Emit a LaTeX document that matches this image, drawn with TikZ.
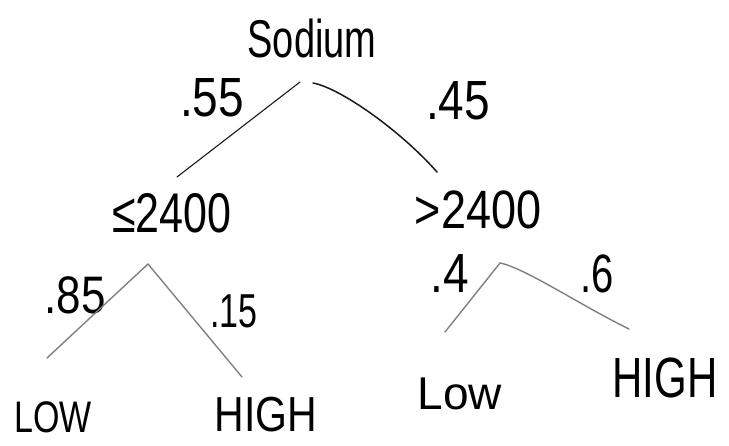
\documentclass[tikz,border=0pt]{standalone}
\usepackage{fontspec}
\usepackage{graphicx}
\setmainfont{Liberation Sans}
\newcommand\hw[3]{\scalebox{1}[#2]{\fontsize{#1}{#1}\selectfont #3}}
\begin{document}
\begin{tikzpicture}[x=1pt,y=-1pt,
  hand/.style={inner sep=0pt,anchor=center,text=black},
  topline/.style={line width=1.1pt,draw=black!90,line cap=round},
  lowline/.style={line width=1.4pt,draw=black!50,line cap=round}]
\useasboundingbox (0,0) rectangle (729,445);
% texts
\node[hand] (sodium) at (312,38) {\hw{38}{1.4}{Sodium}};
\node[hand] (p55) at (212,98) {\hw{46}{1.2}{.55}};
\node[hand] (p45) at (458,101) {\hw{46}{1.2}{.45}};
\node[hand] (le) at (172,213) {\hw{43}{1.3}{≤2400}};
\node[hand] (gt) at (478,210) {\hw{45}{1.2}{>2400}};
\node[hand] (p85) at (75,295) {\hw{44}{1.2}{.85}};
\node[hand] (p15) at (234,311) {\hw{34}{1.4}{.15}};
\node[hand] (p4) at (450,274) {\hw{46}{1.2}{.4}};
\node[hand] (p6) at (597,274) {\hw{40}{1.35}{.6}};
\node[hand] (low1) at (53,417) {\hw{34}{1.3}{LOW}};
\node[hand] (high1) at (266,415) {\hw{41}{1.2}{HIGH}};
\node[hand] (low2) at (460,394) {\hw{46}{1.0}{Low}};
\node[hand] (high2) at (665,378) {\hw{42}{1.35}{HIGH}};
% connector points
\coordinate (rootL) at (300,82);
\coordinate (rootR) at (313,83);
\coordinate (aL) at (177,177);
\coordinate (aR) at (437,172);
\coordinate (lapex) at (148,264);
\coordinate (lL) at (47,358);
\coordinate (lR) at (242,377);
\coordinate (rapex) at (500,263);
\coordinate (rL) at (445,332);
\coordinate (rR) at (629,329);
% connectors
\draw[topline] (rootL) -- (aL);
\draw[topline,line width=1.5pt] (rootR) .. controls (340,88) and (400,130) .. (aR);
\draw[lowline] (lapex) -- (lL);
\draw[lowline] (lapex) -- (lR);
\draw[lowline] (rapex) -- (rL);
\draw[lowline] (rapex) .. controls (525,268) and (580,305) .. (rR);
\end{tikzpicture}
\end{document}
